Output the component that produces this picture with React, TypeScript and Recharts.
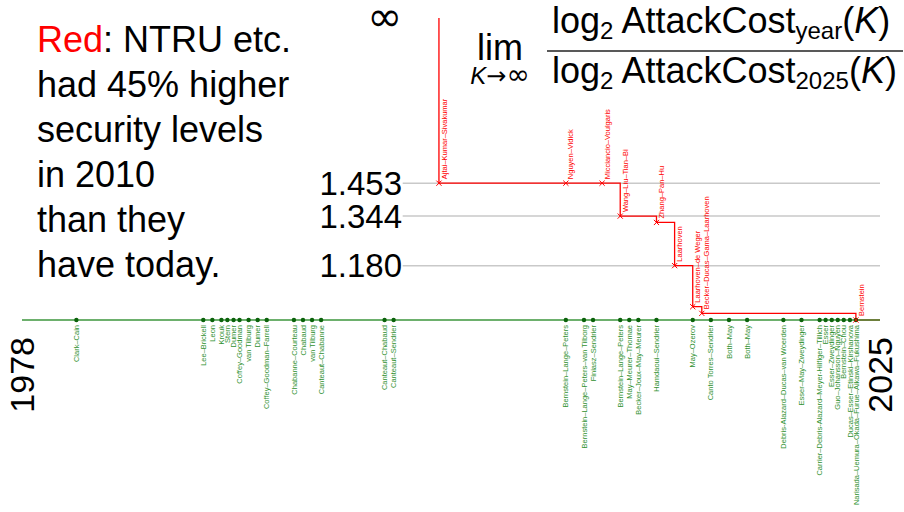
import React from 'react';
import { ComposedChart, XAxis, YAxis, Line, Scatter, ReferenceLine } from 'recharts';

// ---- data ----
const AXIS_START = 1978;
const AXIS_END = 2025.33;
const INF_VALUE = 2; // plotted position of "infinity"

const X_TICK_VALUES = [AXIS_START, AXIS_END];
const X_TICK_LABELS = ['1978', '2025'];

const Y_TICK_VALUES = [1.18, 1.344, 1.453, INF_VALUE];
const Y_TICK_LABELS = ['1.180', '1.344', '1.453', '∞'];
const GRID_VALUES = [1.18, 1.344, 1.453];
const GRID_FROM_YEAR = 1999;

const RED_NAMES = [
  '',
  'Ajtai–Kumar–Sivakumar',
  'Nguyen–Vidick',
  'Micciancio–Voulgaris',
  'Wang–Liu–Tian–Bi',
  'Zhang–Pan–Hu',
  'Laarhoven',
  'Laarhoven–de Weger',
  'Becker–Ducas–Gama–Laarhoven',
  'Bernstein',
  '',
];
const RED_YEARS = [2001, 2001, 2008, 2010, 2011, 2013, 2014, 2015, 2015.5, 2024, AXIS_END];
const RED_VALUES = [INF_VALUE, 1.453, 1.453, 1.453, 1.344, 1.323, 1.18, 1.044, 1.022, 1, 1];

const GREEN_NAMES = [
  'Clark–Cain',
  'Lee–Brickell',
  'Leon',
  'Krouk',
  'Stern',
  'Dumer',
  'Coffey–Goodman',
  'van Tilburg',
  'Dumer',
  'Coffey–Goodman–Farrell',
  'Chabanne–Courteau',
  'Chabaud',
  'van Tilburg',
  'Canteaut–Chabanne',
  'Canteaut–Chabaud',
  'Canteaut–Sendrier',
  'Bernstein–Lange–Peters',
  'Bernstein–Lange–Peters–van Tilborg',
  'Finiasz–Sendrier',
  'Bernstein–Lange–Peters',
  'May–Meurer–Thomae',
  'Becker–Joux–May–Meurer',
  'Hamdaoui–Sendrier',
  'May–Ozerov',
  'Canto Torres–Sendrier',
  'Both–May',
  'Both–May',
  'Debris-Alazard–Ducas–van Woerden',
  'Esser–May–Zweydinger',
  'Carrier–Debris-Alazard–Meyer-Hilfiger–Tillich',
  'Esser',
  'Esser–Zweydinger',
  'Guo–Johansson–Nguyen',
  'Bernstein–Chou',
  'Ducas–Esser–Etinski–Kirshanova',
  'Narisada–Uemura–Okada–Furue–Aikawa–Fukushima',
];
const GREEN_YEARS = [
  1981, 1988, 1988.5, 1989, 1989.33, 1989.67, 1990, 1990.5, 1991, 1991.5,
  1993, 1993.5, 1994, 1994.5, 1998, 1998.5, 2008, 2009, 2009.5, 2011,
  2011.5, 2012, 2013, 2015, 2016, 2017, 2018, 2020, 2021, 2022,
  2022.33, 2022.67, 2023, 2023.33, 2023.67, 2024,
];

const LEFT_LINES = ['NTRU etc.', 'had 45% higher', 'security levels', 'in 2010', 'than they', 'have today.'];

// ---- built tables ----
const redData = RED_YEARS.map((x, i) => ({ x, y: RED_VALUES[i], name: RED_NAMES[i] }));
const greenData = GREEN_YEARS.map((x, i) => ({ x, y: 1, name: GREEN_NAMES[i] }));

// ---- styles ----
const FONT = '"Liberation Sans", Arial, sans-serif';
const MATH = '"DejaVu Sans", sans-serif';
const RED = '#ff0000';
const GREEN_LINE = '#3c963c';
const GREEN_DOT = '#0b620b';
const GREEN_TEXT = '#2f912f';
const GRID = '#c9c9c9';

function RedDot(props: any) {
  const { cx, cy, payload, index } = props;
  if (!payload || !payload.name) return <g key={`rd-${index}`} />;
  const s = 2.6;
  const lx = cx + 5;
  const ly = cy - 4;
  return (
    <g key={`rd-${index}`}>
      <line x1={cx - s} y1={cy - s} x2={cx + s} y2={cy + s} stroke={RED} strokeWidth={1} />
      <line x1={cx - s} y1={cy + s} x2={cx + s} y2={cy - s} stroke={RED} strokeWidth={1} />
      <text
        x={lx}
        y={ly}
        transform={`rotate(-90 ${lx} ${ly})`}
        textAnchor="start"
        dy="0.35em"
        fontSize={7.5}
        fontFamily={FONT}
        fill={RED}
      >
        {payload.name}
      </text>
    </g>
  );
}

function GreenShape(props: any) {
  const { cx, cy, payload } = props;
  const ly = cy + 5;
  return (
    <g>
      <circle cx={cx} cy={cy} r={2.2} fill={GREEN_DOT} />
      <text
        x={cx}
        y={ly}
        transform={`rotate(-90 ${cx} ${ly})`}
        textAnchor="end"
        dy="0.35em"
        fontSize={7.5}
        fontFamily={FONT}
        fill={GREEN_TEXT}
      >
        {payload.name}
      </text>
    </g>
  );
}

function XTick(props: any) {
  const { x, payload } = props;
  const label = X_TICK_LABELS[X_TICK_VALUES.indexOf(payload.value)] ?? String(payload.value);
  const ty = 337;
  return (
    <text
      x={x}
      y={ty}
      transform={`rotate(-90 ${x} ${ty})`}
      textAnchor="end"
      dy="0.35em"
      fontSize={34}
      fontFamily={FONT}
      fill="#000"
    >
      {label}
    </text>
  );
}

function YTick(props: any) {
  const { y, payload } = props;
  const i = Y_TICK_VALUES.indexOf(payload.value);
  const label = Y_TICK_LABELS[i] ?? String(payload.value);
  const isInf = payload.value === INF_VALUE;
  return (
    <text
      x={402}
      y={y}
      textAnchor="end"
      dy={isInf ? '0.3em' : '0.35em'}
      fontSize={isInf ? 42 : 33}
      fontFamily={isInf ? MATH : FONT}
      fill="#000"
    >
      {label}
    </text>
  );
}

export default function App() {
  return (
    <div style={{ position: 'absolute', left: 0, top: 0, width: 904, height: 512, background: '#fff', overflow: 'hidden' }}>
      <ComposedChart
        width={904}
        height={512}
        margin={{ top: 18, right: 24, bottom: 0, left: 12 }}
        style={{ position: 'absolute', left: 0, top: 0 }}
      >
        <XAxis
          type="number"
          dataKey="x"
          domain={[AXIS_START, AXIS_END]}
          ticks={X_TICK_VALUES}
          interval={0}
          height={192}
          axisLine={{ stroke: GREEN_LINE, strokeWidth: 1.6 }}
          tickLine={false}
          tick={<XTick />}
        />
        <YAxis
          type="number"
          dataKey="y"
          domain={[1, INF_VALUE]}
          ticks={Y_TICK_VALUES}
          interval={0}
          width={10}
          axisLine={false}
          tickLine={false}
          tick={<YTick />}
        />
        {GRID_VALUES.map((v) => (
          <ReferenceLine
            key={`g-${v}`}
            segment={[{ x: GRID_FROM_YEAR, y: v }, { x: AXIS_END, y: v }]}
            stroke={GRID}
            strokeWidth={1.5}
          />
        ))}
        <Scatter
          data={greenData}
          dataKey="y"
          isAnimationActive={false}
          shape={(p: any) => <GreenShape {...p} />}
        />
        <Line
          data={redData}
          dataKey="y"
          type="stepAfter"
          stroke={RED}
          strokeWidth={1.3}
          dot={(p: any) => <RedDot key={`rd-${p.index}`} {...p} />}
          activeDot={false}
          isAnimationActive={false}
        />
      </ComposedChart>
      <svg
        width={904}
        height={512}
        style={{ position: 'absolute', left: 0, top: 0, pointerEvents: 'none' }}
      >
        {LEFT_LINES.map((line, i) => (
          <text key={i} x={37} y={52 + i * 45} fontSize={36} fontFamily={FONT} fill="#000">
            {i === 0 ? (
              <>
                <tspan fill={RED}>Red</tspan>
                {': ' + line}
              </>
            ) : (
              line
            )}
          </text>
        ))}
        <text x={477} y={60} fontSize={36} fontFamily={FONT} fill="#000">lim</text>
        <text x={500} y={84} fontSize={24} fontFamily={FONT} fill="#000" textAnchor="middle">
          <tspan fontStyle="italic">K</tspan>
          <tspan fontFamily={MATH}>→</tspan>
          <tspan fontFamily={MATH} fontSize={28}>∞</tspan>
        </text>
        <text x={552} y={33} fontSize={36} fontFamily={FONT} fill="#000">
          log
          <tspan fontSize={24} dy={6}>2</tspan>
          <tspan dy={-6}>{' AttackCost'}</tspan>
          <tspan fontSize={24} dy={6}>year</tspan>
          <tspan dy={-6}>(</tspan>
          <tspan fontStyle="italic">K</tspan>
          <tspan>)</tspan>
        </text>
        <line x1={547} x2={903} y1={51} y2={51} stroke="#222" strokeWidth={1.5} />
        <text x={552} y={83} fontSize={36} fontFamily={FONT} fill="#000">
          log
          <tspan fontSize={24} dy={6}>2</tspan>
          <tspan dy={-6}>{' AttackCost'}</tspan>
          <tspan fontSize={24} dy={6}>2025</tspan>
          <tspan dy={-6}>(</tspan>
          <tspan fontStyle="italic">K</tspan>
          <tspan>)</tspan>
        </text>
      </svg>
    </div>
  );
}
